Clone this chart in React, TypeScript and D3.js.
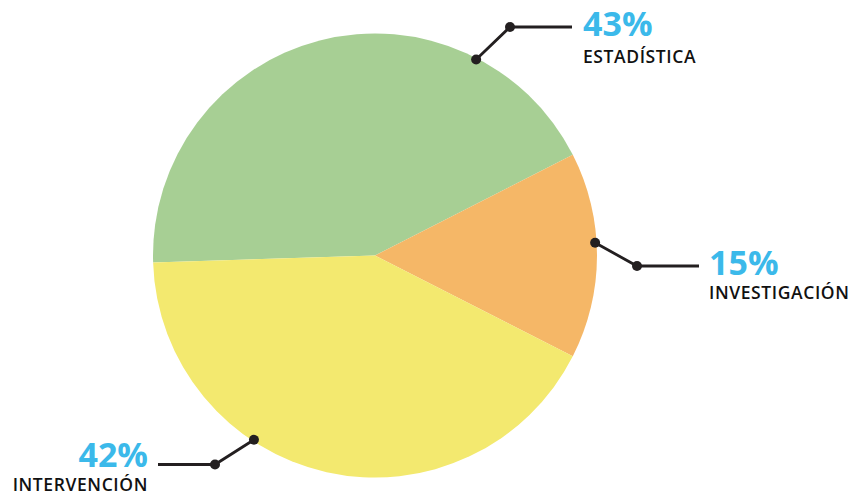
import React, { useEffect } from "react";
import * as d3 from "d3";

const categories = ["ESTADÍSTICA", "INVESTIGACIÓN", "INTERVENCIÓN"];
const values = [43, 15, 42];
const percentLabels = ["43%", "15%", "42%"];
const colors = ["#a7cf94", "#f5b767", "#f3e96f"];

const W = 853;
const H = 494;
const cx = 375;
const cy = 255.5;
const R = 222;
const startDeg = -91.8;

// leader geometry: angle (deg) of dot on rim, elbow, line end x, text anchor
const leaders = [
  { angle: 27.3, elbow: [510, 27], endX: 572, textX: 583, pctY: 36, labY: 63, anchor: "start" },
  { angle: 86.7, elbow: [637, 266], endX: 699, textX: 709, pctY: 275, labY: 299, anchor: "start" },
  { angle: 213.3, elbow: [215, 464.5], endX: 158, textX: 148, pctY: 467, labY: 491, anchor: "end" },
];

export default function App() {
  useEffect(() => {
    document.body.style.margin = "0";
  }, []);
  const pie = d3
    .pie<number>()
    .sort(null)
    .startAngle((startDeg * Math.PI) / 180)
    .endAngle(((startDeg + 360) * Math.PI) / 180)(values);
  const arc = d3.arc<d3.PieArcDatum<number>>().innerRadius(0).outerRadius(R);
  const rDot = 220.5;
  return (
    <svg width={W} height={H} style={{ display: "block", background: "#fff" }}>
      <g transform={`translate(${cx},${cy})`}>
        {pie.map((d, i) => (
          <path key={i} d={arc(d) || ""} fill={colors[i]} />
        ))}
      </g>
      {leaders.map((l, i) => {
        const a = (l.angle * Math.PI) / 180;
        const px = cx + rDot * Math.sin(a);
        const py = cy - rDot * Math.cos(a);
        return (
          <g key={i}>
            <polyline
              points={`${px},${py} ${l.elbow[0]},${l.elbow[1]} ${l.endX},${l.elbow[1]}`}
              fill="none"
              stroke="#231f20"
              strokeWidth={2.8}
            />
            <circle cx={px} cy={py} r={5} fill="#231f20" />
            <circle cx={l.elbow[0]} cy={l.elbow[1]} r={5} fill="#231f20" />
            <text
              x={l.textX}
              y={l.pctY}
              textAnchor={l.anchor as any}
              fill="#3bb9ea"
              fontFamily="'Open Sans', sans-serif"
              fontWeight={700}
              fontSize={34}
            >
              {percentLabels[i]}
            </text>
            <text
              x={l.textX}
              y={l.labY}
              textAnchor={l.anchor as any}
              fill="#111"
              fontFamily="'Open Sans', sans-serif"
              fontWeight={600}
              fontSize={17.5}
              letterSpacing={0.6}
            >
              {categories[i]}
            </text>
          </g>
        );
      })}
    </svg>
  );
}
